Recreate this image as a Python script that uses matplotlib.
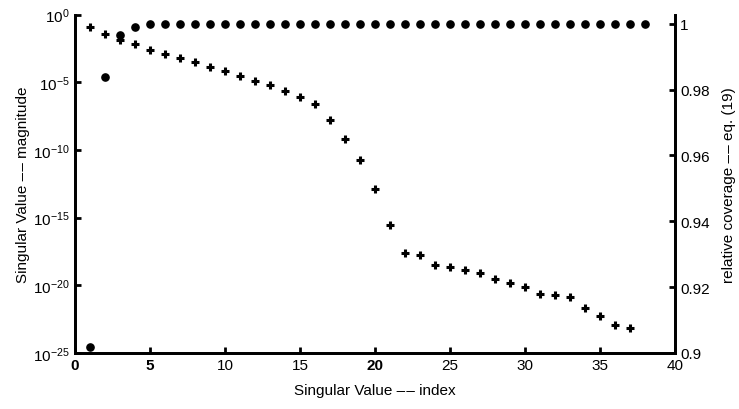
import numpy as np
import matplotlib
matplotlib.use('Agg')
import matplotlib.pyplot as plt
import matplotlib.ticker as ticker

plt.rcParams['font.family'] = ['Liberation Sans', 'DejaVu Sans']
plt.rcParams['mathtext.default'] = 'regular'

# singular values (log10 of magnitude) for index 1..37
sv_index = np.arange(1, 38)
sv_log10 = [-0.94, -1.43, -1.85, -2.17, -2.59, -2.88, -3.23, -3.53, -3.87, -4.19,
            -4.51, -4.88, -5.20, -5.62, -6.09, -6.58, -7.82, -9.19, -10.75, -12.89,
            -15.53, -17.63, -17.80, -18.51, -18.66, -18.91, -19.10, -19.57, -19.85, -20.10,
            -20.64, -20.74, -20.86, -21.67, -22.29, -22.98, -23.18]

# relative coverage for index 1..38
cov_index = np.arange(1, 39)
coverage = [0.9018, 0.9837, 0.9967, 0.9991] + [0.9998] * 34

x_ticks = [0, 5, 10, 15, 20, 25, 30, 35, 40]
left_ticks = [1e0, 1e-5, 1e-10, 1e-15, 1e-20, 1e-25]
right_ticks = [0.9, 0.92, 0.94, 0.96, 0.98, 1.0]

DASH = '\u2013\u200a\u2013'

fig = plt.figure(figsize=(7.39, 4.10), dpi=100)
ax = fig.add_axes([0.1015, 0.137, 0.8115, 0.825])
ax2 = ax.twinx()

ax.plot(sv_index, 10.0 ** np.array(sv_log10), linestyle='none', marker='+',
        markersize=6, markeredgewidth=2.2, color='black', zorder=3)
ax2.plot(cov_index, coverage, linestyle='none', marker='o',
         markersize=5.2, color='black', zorder=3)

ax.set_yscale('log')
ax.set_ylim(1e-25, 1e0)
ax.set_xlim(0, 40)
ax.yaxis.set_major_locator(ticker.FixedLocator(left_ticks))
ax.yaxis.set_minor_locator(ticker.NullLocator())
ax.set_xticks(x_ticks)
ax.set_xticklabels([str(t) for t in x_ticks])
for lbl in ax.get_xticklabels():
    if lbl.get_text() in ('0', '5', '20'):
        lbl.set_fontweight('bold')

ax2.set_ylim(0.9, 1.0028)
ax2.set_yticks(right_ticks)
ax2.set_yticklabels(['0.9', '0.92', '0.94', '0.96', '0.98', '1'])

for a in (ax, ax2):
    a.spines['top'].set_visible(False)
    for s in ('left', 'bottom', 'right'):
        a.spines[s].set_linewidth(2)
    a.tick_params(direction='in', length=4, width=2, labelsize=11, pad=4)

ax.set_xlabel('Singular Value ' + DASH + ' index', fontsize=11, labelpad=8)
ax.set_ylabel('Singular Value ' + DASH + ' magnitude', fontsize=11, labelpad=2)
ax2.set_ylabel('relative coverage ' + DASH + ' eq. (19)', fontsize=11, labelpad=9)

fig.savefig('out.png', dpi=100, facecolor='white')
